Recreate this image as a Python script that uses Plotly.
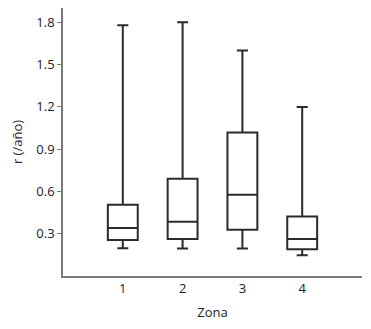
import plotly.graph_objects as go

zonas = [1, 2, 3, 4]
lower_whisker = [0.197, 0.196, 0.196, 0.147]
q1_vals = [0.255, 0.262, 0.328, 0.19]
medians = [0.34, 0.385, 0.577, 0.262]
q3_vals = [0.506, 0.691, 1.018, 0.423]
upper_whisker = [1.78, 1.80, 1.60, 1.20]

y_ticks = [0.3, 0.6, 0.9, 1.2, 1.5, 1.8]
x_ticks = [1, 2, 3, 4]

fig = go.Figure()
fig.add_trace(go.Box(
    x=zonas,
    q1=q1_vals,
    median=medians,
    q3=q3_vals,
    lowerfence=lower_whisker,
    upperfence=upper_whisker,
    width=0.5,
    whiskerwidth=0.37,
    fillcolor="white",
    line=dict(color="#2b2b2b", width=2),
    boxpoints=False,
    hoverinfo="skip",
))

font_family = "Open Sans, Noto Sans, sans-serif"
# The page body adds an 8px offset, so the figure is sized to fit the window.
fig.update_layout(
    width=363, height=321,
    margin=dict(l=55, r=9, t=0, b=53),
    plot_bgcolor="white", paper_bgcolor="white",
    showlegend=False,
    font=dict(family=font_family, size=12, color="#1a1a2e"),
    xaxis=dict(
        range=[0, 5], tickmode="array", tickvals=x_ticks,
        ticktext=[str(v) for v in x_ticks],
        showgrid=False, zeroline=False, showline=True,
        linecolor="#7a7a7a", linewidth=1.5, ticks="",
        tickfont=dict(size=13, color="#1a1a2e"),
        title=dict(text="Zona", font=dict(size=13, color="#1a1a2e"), standoff=12),
        automargin=False,
    ),
    yaxis=dict(
        range=[0, 1.902], tickmode="array", tickvals=y_ticks,
        ticktext=[f"{v:.1f}" for v in y_ticks],
        showgrid=False, zeroline=False, showline=True,
        linecolor="#7a7a7a", linewidth=1.5, ticks="outside",
        ticklen=4, tickcolor="#7a7a7a",
        tickfont=dict(size=13, color="#1a1a2e"),
        title=dict(text="r (/año)", font=dict(size=13, color="#3a2540"), standoff=12),
        automargin=False,
    ),
)

fig.write_html("out.html")
